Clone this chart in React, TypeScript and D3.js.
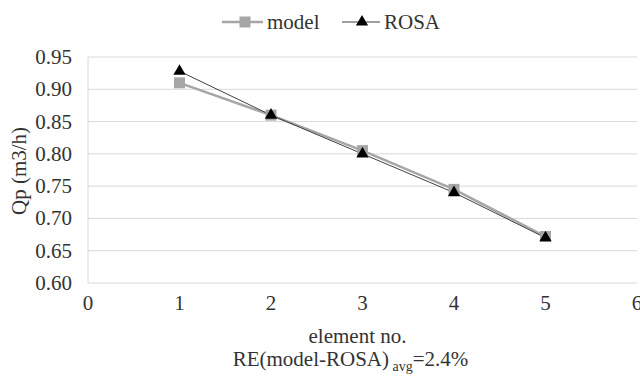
import React, { useEffect, useRef } from 'react';
import * as d3 from 'd3';

const elements = [1, 2, 3, 4, 5];
const modelValues = [0.91, 0.86, 0.805, 0.745, 0.672];
const rosaValues = [0.928, 0.86, 0.80, 0.74, 0.67];
const yTicks = [0.6, 0.65, 0.7, 0.75, 0.8, 0.85, 0.9, 0.95];
const xTicks = [0, 1, 2, 3, 4, 5, 6];

const W = 640;
const H = 376;
const FONT = 'Liberation Serif, Times New Roman, DejaVu Serif, serif';
const TEXT = '#333';

const App = () => {
  const svgRef = useRef<SVGSVGElement>(null);

  useEffect(() => {
    const svg = d3.select(svgRef.current);
    svg.selectAll('*').remove();

    const margin = { top: 57, right: 3, bottom: 93, left: 88 };
    const innerW = W - margin.left - margin.right;
    const innerH = H - margin.top - margin.bottom;

    const x = d3.scaleLinear().domain([0, 6]).range([0, innerW]);
    const y = d3.scaleLinear().domain([0.6, 0.95]).range([innerH, 0]);

    const g = svg.append('g')
      .attr('transform', `translate(${margin.left},${margin.top})`)
      .attr('font-family', FONT)
      .attr('font-size', 21)
      .attr('fill', TEXT);

    // gridlines
    g.selectAll('.grid')
      .data(yTicks)
      .enter().append('line')
      .attr('x1', 0)
      .attr('x2', innerW)
      .attr('y1', d => y(d))
      .attr('y2', d => y(d))
      .attr('stroke', '#d9d9d9')
      .attr('stroke-width', 1);

    // left axis line
    g.append('line')
      .attr('x1', 0).attr('x2', 0)
      .attr('y1', 0).attr('y2', innerH)
      .attr('stroke', '#d9d9d9');

    // y tick labels
    g.selectAll('.ylab')
      .data(yTicks)
      .enter().append('text')
      .attr('x', -16)
      .attr('y', d => y(d) + 7)
      .attr('text-anchor', 'end')
      .text(d => d3.format('.2f')(d));

    // x tick labels
    g.selectAll('.xlab')
      .data(xTicks)
      .enter().append('text')
      .attr('x', d => x(d))
      .attr('y', innerH + 27)
      .attr('text-anchor', 'middle')
      .text(d => d);

    // axis titles
    g.append('text')
      .attr('transform', 'rotate(-90)')
      .attr('x', -(171 - margin.top))
      .attr('y', -62)
      .attr('text-anchor', 'middle')
      .text('Qp (m3/h)');

    g.append('text')
      .attr('x', x(3) - 5)
      .attr('y', innerH + 60)
      .attr('text-anchor', 'middle')
      .text('element no.');

    const note = g.append('text')
      .attr('x', x(3) - 12)
      .attr('y', innerH + 83)
      .attr('text-anchor', 'middle');
    note.append('tspan').text('RE(model-ROSA)');
    note.append('tspan').attr('dy', 5).attr('font-size', 14).text(' avg');
    note.append('tspan').attr('dy', -5).text('=2.4%');

    const line = d3.line<number>()
      .x((_, i) => x(elements[i]))
      .y(d => y(d));

    // model series
    g.append('path')
      .datum(modelValues)
      .attr('fill', 'none')
      .attr('stroke', '#a6a6a6')
      .attr('stroke-width', 2.5)
      .attr('d', line);

    // ROSA series
    g.append('path')
      .datum(rosaValues)
      .attr('fill', 'none')
      .attr('stroke', '#404040')
      .attr('stroke-width', 1)
      .attr('d', line);

    const sq = 11;
    g.selectAll('.model-pt')
      .data(modelValues)
      .enter().append('rect')
      .attr('x', (_, i) => x(elements[i]) - sq / 2)
      .attr('y', d => y(d) - sq / 2)
      .attr('width', sq)
      .attr('height', sq)
      .attr('fill', '#a6a6a6');

    const tri = d3.symbol().type(d3.symbolTriangle).size(65);
    g.selectAll('.rosa-pt')
      .data(rosaValues)
      .enter().append('path')
      .attr('transform', (d, i) => `translate(${x(elements[i])},${y(d)})`)
      .attr('d', tri)
      .attr('fill', '#000');

    // legend
    const legend = svg.append('g')
      .attr('transform', 'translate(222,22)')
      .attr('font-family', FONT)
      .attr('font-size', 21)
      .attr('fill', TEXT);
    legend.append('line')
      .attr('x1', 0).attr('x2', 41).attr('y1', 0).attr('y2', 0)
      .attr('stroke', '#a6a6a6').attr('stroke-width', 2.5);
    legend.append('rect')
      .attr('x', 23 - sq / 2).attr('y', -sq / 2)
      .attr('width', sq).attr('height', sq)
      .attr('fill', '#a6a6a6');
    legend.append('text')
      .attr('x', 45).attr('y', 7)
      .text('model');

    legend.append('line')
      .attr('x1', 120).attr('x2', 158).attr('y1', 0).attr('y2', 0)
      .attr('stroke', '#404040').attr('stroke-width', 1);
    legend.append('path')
      .attr('transform', 'translate(140,0)')
      .attr('d', tri)
      .attr('fill', '#000');
    legend.append('text')
      .attr('x', 162).attr('y', 7)
      .text('ROSA');
  }, []);

  return (
    <svg
      ref={svgRef}
      width={W}
      height={H}
      style={{ position: 'absolute', left: 0, top: 0, background: '#fff' }}
    />
  );
};

export default App;
